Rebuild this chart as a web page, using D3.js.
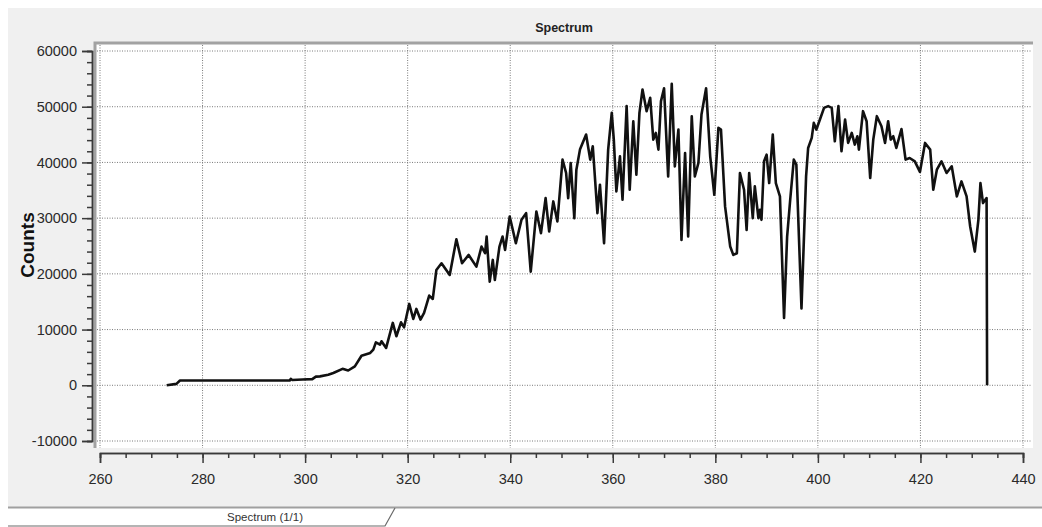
<!DOCTYPE html>
<html>
<head>
<meta charset="utf-8">
<script src="https://cdn.jsdelivr.net/npm/d3@7"></script>
<style>
  html, body { margin: 0; padding: 0; background: #ffffff; }
  svg { display: block; font-family: "Liberation Sans", Arial, sans-serif; }
</style>
</head>
<body>
<div id="spectrum"></div>
<script>
// longitud de onda (nm)
const wavelengths = [
  273.0, 274.9, 275.6, 276.5, 297.0, 297.2, 297.5, 299.5, 301.4, 302.1,
  302.9, 304.5, 305.5, 307.3, 308.4, 309.7, 311.0, 312.7, 313.3, 313.8,
  314.6, 314.9, 315.8, 317.1, 317.8, 318.7, 319.3, 320.3, 321.1, 321.7,
  322.5, 323.2, 324.2, 324.9, 325.6, 326.6, 328.2, 329.5, 330.6, 331.9,
  333.4, 334.4, 335.1, 335.4, 336.0, 336.6, 337.0, 337.9, 338.5, 339.0,
  339.9, 341.1, 342.2, 343.1, 344.0, 345.1, 346.0, 346.9, 347.6, 348.4,
  349.2, 350.2, 350.9, 351.3, 351.8, 352.5, 352.9, 353.6, 354.8, 355.6,
  356.1, 357.0, 357.5, 358.3, 359.1, 359.8, 360.2, 360.7, 361.4, 361.9,
  362.7, 363.3, 364.0, 364.6, 365.2, 365.8, 366.6, 367.3, 367.9, 368.4,
  368.9, 369.4, 370.0, 370.8, 371.5, 372.1, 372.8, 373.4, 374.1, 374.7,
  375.4, 376.0, 376.7, 377.3, 378.2, 379.0, 379.8, 380.6, 381.1, 381.9,
  382.9, 383.5, 384.2, 384.8, 385.6, 386.1, 386.6, 387.3, 387.7, 388.4,
  388.7, 389.0, 389.5, 390.0, 390.5, 391.2, 391.8, 392.6, 393.4, 394.0,
  394.6, 395.3, 395.8, 396.8, 397.7, 398.1, 398.8, 399.2, 399.7, 400.4,
  401.2, 402.0, 402.7, 403.3, 404.0, 404.6, 405.3, 405.9, 406.6, 407.2,
  407.7, 408.0, 408.8, 409.5, 410.2, 410.8, 411.5, 412.4, 413.1, 413.7,
  414.2, 414.7, 415.3, 416.3, 417.1, 417.9, 418.9, 419.9, 420.9, 421.9,
  422.5, 423.2, 424.1, 425.1, 426.1, 427.1, 428.0, 429.0, 429.7, 430.6,
  431.3, 431.7, 432.2, 432.9, 433.0
];
// cuentas para cada longitud de onda
const counts = [
  0, 250, 850, 860, 860, 1150, 950, 1050, 1100, 1550,
  1600, 1900, 2200, 2950, 2650, 3400, 5300, 5800, 6400, 7700,
  7300, 7900, 6700, 11200, 8800, 11300, 10400, 14600, 11900, 13700,
  11800, 13000, 16100, 15500, 20700, 21900, 19800, 26200, 21900, 23400,
  21300, 24900, 23700, 26700, 18600, 22500, 18900, 24900, 26700, 24300,
  30300, 25500, 29700, 30900, 20400, 31200, 27300, 33600, 27600, 33000,
  29400, 40500, 38100, 33600, 39900, 30000, 38700, 42300, 45000, 40500,
  42900, 30900, 36000, 25500, 42300, 48900, 44100, 34800, 41100, 33300,
  50100, 35100, 47400, 37800, 48900, 53100, 49200, 51600, 44100, 45300,
  42300, 51000, 53300, 37500, 54100, 39300, 45900, 26100, 41700, 26700,
  48300, 37500, 39900, 48600, 53300, 41100, 34200, 46200, 45900, 32100,
  24900, 23400, 23700, 38100, 35100, 27900, 38100, 30000, 35700, 30000,
  31500, 29700, 40200, 41400, 36300, 45000, 36300, 33900, 12100, 26700,
  33300, 40500, 39600, 13800, 37500, 42600, 44400, 47100, 45900, 47700,
  49800, 50100, 49800, 43800, 50100, 42000, 47700, 43500, 45300, 43200,
  44700, 42300, 49200, 47400, 37200, 44100, 48300, 46500, 43500, 47400,
  44100, 44700, 42600, 46000, 40500, 40800, 40200, 38300, 43500, 42300,
  35100, 38700, 40200, 38100, 39300, 33900, 36600, 33900, 28500, 24000,
  29700, 36300, 32700, 33600, 0
];
const xTicks = [260, 280, 300, 320, 340, 360, 380, 400, 420, 440];
const yTicks = [-10000, 0, 10000, 20000, 30000, 40000, 50000, 60000];
const xMinor = d3.range(260, 440.1, 5);
const yMinor = d3.range(-10000, 60001, 2000);

const width = 1042, height = 527;
const svg = d3.select("#spectrum")
    .append("svg")
    .attr("width", width)
    .attr("height", height);

// panel gris de la ventana
svg.append("rect")
    .attr("x", 8).attr("y", 8)
    .attr("width", width - 8).attr("height", 499)
    .attr("fill", "#f0f0f0");

// area del grafico
const plot = {left: 95, top: 43, right: 1033, bottom: 448};
svg.append("rect")
    .attr("x", plot.left).attr("y", plot.top)
    .attr("width", plot.right - plot.left)
    .attr("height", plot.bottom - plot.top)
    .attr("fill", "#ffffff");
svg.append("path")
    .attr("d", `M${plot.left},${plot.bottom} V${plot.top} H${plot.right}`)
    .attr("fill", "none")
    .attr("stroke", "#a2a2a2")
    .attr("stroke-width", 3);

const x = d3.scaleLinear().domain([260, 440]).range([100, 1023]);
const y = d3.scaleLinear().domain([-10000, 60000]).range([441, 51]);

// rejilla punteada
svg.append("g").selectAll("line")
    .data(xTicks)
    .enter().append("line")
    .attr("x1", d => x(d)).attr("x2", d => x(d))
    .attr("y1", plot.top + 2).attr("y2", plot.bottom)
    .attr("stroke", "#7a7a7a")
    .attr("stroke-dasharray", "1,1.5");
svg.append("g").selectAll("line")
    .data(yTicks)
    .enter().append("line")
    .attr("x1", plot.left + 2).attr("x2", plot.right - 2)
    .attr("y1", d => y(d)).attr("y2", d => y(d))
    .attr("stroke", "#7a7a7a")
    .attr("stroke-dasharray", "1,1.5");

// ejes
const axisColor = "#3a3a3a";
const gx = svg.append("g").attr("transform", "translate(0,453)");
gx.call(d3.axisBottom(x).tickValues(xMinor).tickSize(5).tickFormat(""));
gx.call(g => g.append("g").call(d3.axisBottom(x).tickValues(xTicks).tickSize(10).tickPadding(11)));
gx.selectAll("path.domain").attr("stroke", axisColor).attr("stroke-width", 1.5);
gx.selectAll("line").attr("stroke", axisColor).attr("stroke-width", 1.5);
gx.selectAll("text").attr("font-size", 14.5).attr("fill", "#2a2a2a").attr("font-family", "Liberation Sans, Arial, sans-serif");

const gy = svg.append("g").attr("transform", "translate(92,0)");
gy.call(d3.axisLeft(y).tickValues(yMinor).tickSize(5).tickFormat(""));
gy.call(g => g.append("g").call(d3.axisLeft(y).tickValues(yTicks).tickSize(10).tickPadding(5).tickFormat(d => String(d))));
gy.selectAll("path.domain").attr("stroke", axisColor).attr("stroke-width", 1.5);
gy.selectAll("line").attr("stroke", axisColor).attr("stroke-width", 1.5);
gy.selectAll("text").attr("font-size", 14.5).attr("fill", "#2a2a2a").attr("font-family", "Liberation Sans, Arial, sans-serif");

// curva del espectro
const puntos = wavelengths.map((w, i) => ({w: w, c: counts[i]}));
const linea = d3.line().x(d => x(d.w)).y(d => y(d.c));
svg.append("path")
    .datum(puntos)
    .attr("d", linea)
    .attr("fill", "none")
    .attr("stroke", "#111111")
    .attr("stroke-width", 2.6)
    .attr("stroke-linejoin", "round");

// titulo y etiqueta del eje
svg.append("text")
    .attr("x", 564).attr("y", 32)
    .attr("text-anchor", "middle")
    .attr("font-size", 12.5)
    .attr("font-weight", "bold")
    .attr("fill", "#222")
    .text("Spectrum");

svg.append("text")
    .attr("transform", "translate(34,245) rotate(-90)")
    .attr("text-anchor", "middle")
    .attr("font-size", 19)
    .attr("font-weight", "bold")
    .attr("fill", "#111")
    .text("Counts");

// pestaña inferior
svg.append("line")
    .attr("x1", 8).attr("x2", width)
    .attr("y1", 507.5).attr("y2", 507.5)
    .attr("stroke", "#a0a0a0").attr("stroke-width", 2);
svg.append("path")
    .attr("d", "M8,526 H385 L395,508")
    .attr("fill", "none")
    .attr("stroke", "#6a6a6a").attr("stroke-width", 1.2);
svg.append("text")
    .attr("x", 265).attr("y", 521)
    .attr("text-anchor", "middle")
    .attr("font-size", 11.5)
    .attr("fill", "#333")
    .text("Spectrum (1/1)");
</script>
</body>
</html>
